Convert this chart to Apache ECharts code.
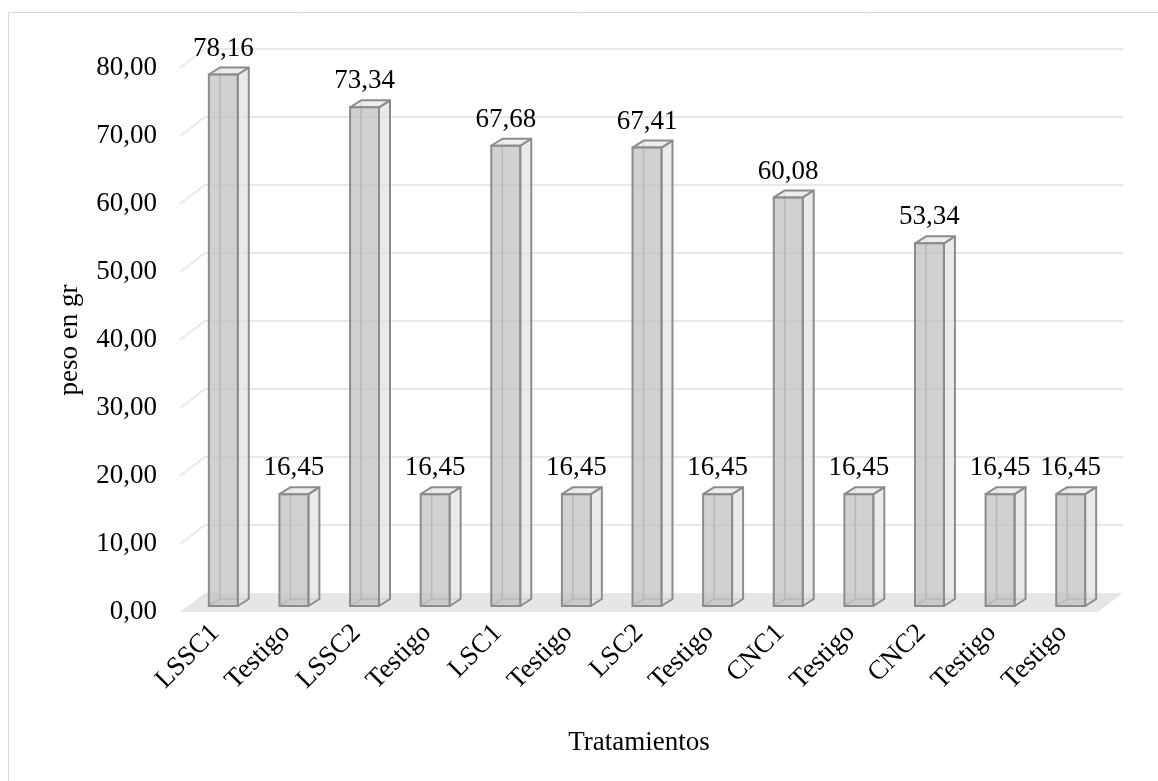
<!DOCTYPE html>
<html>
<head>
<meta charset="utf-8">
<script src="https://cdn.jsdelivr.net/npm/echarts@6/dist/echarts.min.js"></script>
<style>
  html, body { margin: 0; padding: 0; background: #fff; }
  #chart { width: 1158px; height: 781px; }
</style>
</head>
<body>
<div id="chart"></div>
<script>
// Treatments and their weight (grams)
const categories = ['LSSC1', 'Testigo', 'LSSC2', 'Testigo', 'LSC1', 'Testigo', 'LSC2',
  'Testigo', 'CNC1', 'Testigo', 'CNC2', 'Testigo', 'Testigo'];
const pesos = [78.16, 16.45, 73.34, 16.45, 67.68, 16.45, 67.41, 16.45, 60.08, 16.45, 53.34, 16.45, 16.45];
const yTicks = [0, 10, 20, 30, 40, 50, 60, 70, 80];

const FONT = '"Liberation Serif", "Times New Roman", serif';
const FS = 27;
const fmt = v => v.toFixed(2).replace('.', ',');

// depth of the floor / back wall, and of each box
const WALL_DX = 25, WALL_DY = -19;
const BAR_OFF_X = 8, BAR_OFF_Y = -6;   // front face of boxes sits a bit inside the floor
const BAR_DX = 11, BAR_DY = -7;        // box depth
const BAR_RATIO = 0.41;

const chart = echarts.init(document.getElementById('chart'), null, { renderer: 'canvas' });

function renderFloor(params, api) {
  const cs = params.coordSys;
  const gx = cs.x, gw = cs.width;
  const children = [];
  const y0 = api.coord([0, 0])[1];
  children.push({
    type: 'polygon',
    shape: { points: [[gx, y0], [gx + gw, y0], [gx + gw + WALL_DX, y0 + WALL_DY], [gx + WALL_DX, y0 + WALL_DY]] },
    style: { fill: '#e6e6e6', stroke: null }
  });
  yTicks.forEach(t => {
    if (t === 0) return;
    const y = api.coord([0, t])[1];
    children.push({
      type: 'polyline',
      shape: { points: [[gx, y], [gx + WALL_DX, y + WALL_DY], [gx + gw + WALL_DX, y + WALL_DY]] },
      style: { stroke: '#e8e8e8', lineWidth: 2, fill: null }
    });
  });
  return { type: 'group', children };
}

function renderBox(params, api) {
  const i = api.value(0), v = api.value(1);
  const base = api.coord([i, 0]);
  const top = api.coord([i, v]);
  const band = api.size([1, 0])[0];
  const w = band * BAR_RATIO;
  const xL = base[0] - w / 2 + BAR_OFF_X, xR = xL + w;
  const yB = base[1] + BAR_OFF_Y, yT = top[1] + BAR_OFF_Y;
  const dx = BAR_DX, dy = BAR_DY;
  const edge = '#8c8c8c', inner = '#a9a9a9';
  return {
    type: 'group',
    children: [
      // hidden edges, visible through the translucent faces
      { type: 'polyline', shape: { points: [[xL, yB], [xL + dx, yB + dy], [xR + dx, yB + dy]] },
        style: { stroke: inner, lineWidth: 1.5, fill: null } },
      { type: 'line', shape: { x1: xL + dx, y1: yB + dy, x2: xL + dx, y2: yT + dy },
        style: { stroke: inner, lineWidth: 1.5 } },
      // right side
      { type: 'polygon', shape: { points: [[xR, yT], [xR + dx, yT + dy], [xR + dx, yB + dy], [xR, yB]] },
        style: { fill: 'rgba(225,225,225,0.7)', stroke: edge, lineWidth: 2, lineJoin: 'round' } },
      // top
      { type: 'polygon', shape: { points: [[xL, yT], [xR, yT], [xR + dx, yT + dy], [xL + dx, yT + dy]] },
        style: { fill: 'rgba(232,232,232,0.8)', stroke: edge, lineWidth: 2, lineJoin: 'round' } },
      // front
      { type: 'rect', shape: { x: xL, y: yT, width: w, height: yB - yT },
        style: { fill: 'rgba(190,190,190,0.7)', stroke: edge, lineWidth: 2 } },
      // value label
      { type: 'text', x: xL + w / 2, y: yT - 26,
        style: { text: fmt(v), font: FS + 'px ' + FONT, fill: '#000', align: 'center', verticalAlign: 'middle' } }
    ]
  };
}

const option = {
  backgroundColor: '#fff',
  animation: false,
  graphic: [{
    type: 'rect', shape: { x: 8.5, y: 12.5, width: 1170, height: 790 },
    style: { fill: null, stroke: '#d9d9d9', lineWidth: 1 }, silent: true
  }],
  grid: { left: 180, right: 60, top: 68, bottom: 169 },
  xAxis: {
    type: 'category',
    data: categories,
    axisLine: { show: false },
    axisTick: { show: false },
    axisLabel: { rotate: 45, margin: 17, fontFamily: FONT, fontSize: FS, color: '#000', interval: 0 },
    name: 'Tratamientos',
    nameLocation: 'middle',
    nameGap: 117,
    nameTextStyle: { fontFamily: FONT, fontSize: FS, color: '#000' }
  },
  yAxis: {
    type: 'value',
    min: 0, max: 80, interval: 10,
    axisLine: { show: false },
    axisTick: { show: false },
    splitLine: { show: false },
    axisLabel: { formatter: fmt, margin: 23, fontFamily: FONT, fontSize: FS, color: '#000' },
    name: 'peso en gr',
    nameLocation: 'middle',
    nameGap: 97,
    nameTextStyle: { fontFamily: FONT, fontSize: FS, color: '#000' }
  },
  series: [
    { type: 'custom', z: 1, clip: false, renderItem: renderFloor, data: [[0, 0]], silent: true },
    { type: 'custom', z: 2, clip: false, renderItem: renderBox,
      data: pesos.map((v, i) => [i, v]), encode: { x: 0, y: 1 } }
  ]
};
chart.setOption(option);
</script>
</body>
</html>
